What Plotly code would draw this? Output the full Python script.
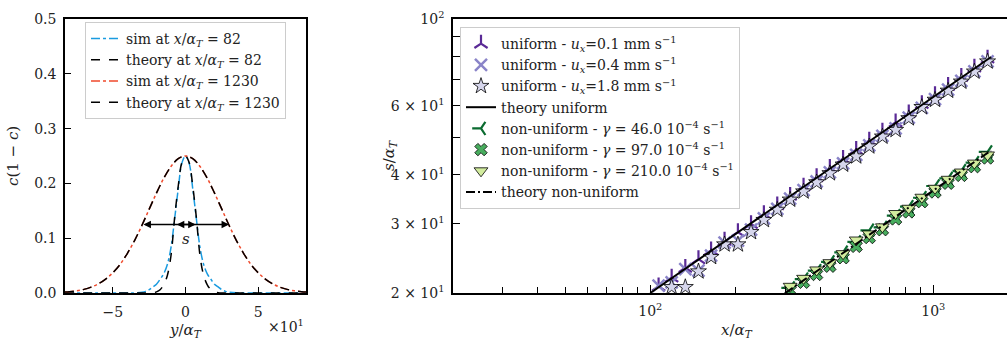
import plotly.graph_objects as go

# ---------------- left panel data ----------------
y_wide = [-83, -80, -75, -70, -65, -60, -55, -50, -45, -40, -35, -30, -25, -20, -15, -10, -5, 0,
          5, 10, 15, 20, 25, 30, 35, 40, 45, 50, 55, 60, 65, 70, 75, 80, 83]
sim_1230 = [0.0016, 0.0023, 0.0040, 0.0066, 0.0107, 0.0167, 0.0254, 0.0371, 0.0524, 0.0725, 0.0962,
            0.1236, 0.1530, 0.1823, 0.2093, 0.2309, 0.2452, 0.2500,
            0.2452, 0.2309, 0.2093, 0.1823, 0.1530, 0.1236, 0.0962, 0.0725, 0.0524, 0.0371, 0.0254,
            0.0167, 0.0107, 0.0066, 0.0040, 0.0023, 0.0016]
theory_1230 = [0.0016, 0.0023, 0.0040, 0.0066, 0.0107, 0.0167, 0.0254, 0.0371, 0.0524, 0.0725, 0.0962,
               0.1236, 0.1530, 0.1823, 0.2093, 0.2309, 0.2452, 0.2500,
               0.2452, 0.2309, 0.2093, 0.1823, 0.1530, 0.1236, 0.0962, 0.0725, 0.0524, 0.0371, 0.0254,
               0.0167, 0.0107, 0.0066, 0.0040, 0.0023, 0.0016]

y_narrow = [-83, -40, -35, -30, -27.5, -25, -22.5, -20, -17.5, -15, -12.5, -10, -7.5, -5, -2.5, 0,
            2.5, 5, 7.5, 10, 12.5, 15, 17.5, 20, 22.5, 25, 27.5, 30, 35, 40, 83]
sim_82 = [0.0, 0.0, 0.0003, 0.0015, 0.003, 0.006, 0.011, 0.016, 0.025, 0.035, 0.052, 0.083, 0.135,
          0.19, 0.237, 0.25,
          0.237, 0.19, 0.135, 0.083, 0.052, 0.035, 0.025, 0.016, 0.011, 0.006, 0.003, 0.0015, 0.0003,
          0.0, 0.0]
theory_82 = [0.0, 0.0, 0.0, 0.0, 0.0, 0.0, 0.0005, 0.002, 0.006, 0.015, 0.032, 0.068, 0.137,
             0.195, 0.238, 0.25,
             0.238, 0.195, 0.137, 0.068, 0.032, 0.015, 0.006, 0.002, 0.0005, 0.0, 0.0, 0.0, 0.0,
             0.0, 0.0]

# ---------------- right panel data ----------------
x_u = [107, 119, 133, 148, 164, 183, 204, 227, 252, 281, 312, 348, 387, 431, 480, 534, 594, 661,
       736, 819, 911, 1014, 1128, 1256, 1397, 1555]
s_u01 = [20.8, 21.9, 23.2, 24.4, 25.7, 27.2, 28.6, 30.0, 31.8, 33.5, 35.4, 37.4, 39.5, 41.7, 44.0,
         46.4, 49.0, 51.6, 54.5, 57.5, 60.7, 64.0, 67.5, 71.2, 75.2, 79.3]
s_u04 = [20.9, 21.3, 23.0, 22.8, 24.9, 26.9, 27.2, 29.0, 31.0, 32.8, 34.8, 36.6, 38.5, 40.6, 42.8,
         45.0, 47.6, 50.3, 52.6, 56.0, 59.3, 62.5, 66.0, 69.5, 73.5, 78.0]
x_u18 = [119, 133, 148, 164, 183, 204, 227, 252, 281, 312, 348, 387, 431, 480, 534, 594, 661,
         736, 819, 911, 1014, 1128, 1256, 1397, 1555]
s_u18 = [20.7, 20.7, 22.7, 24.7, 26.6, 26.6, 28.6, 30.7, 32.6, 34.6, 36.3, 38.3, 40.4, 42.5, 44.6,
         47.3, 50.1, 52.1, 55.8, 59.6, 62.2, 65.6, 69.2, 73.4, 77.9]
x_th_u = [100, 1600]
s_th_u = [20.0, 80.0]

x_n = [312, 348, 387, 431, 480, 534, 594, 661, 736, 819, 911, 1014, 1128, 1256, 1397, 1555]
s_g46 = [20.6, 21.7, 22.8, 24.0, 25.4, 27.0, 28.9, 29.4, 31.5, 33.2, 35.0, 37.5, 39.2, 41.0, 43.0, 45.8]
s_g97 = [20.3, 21.3, 22.3, 23.4, 24.6, 26.3, 27.7, 29.0, 30.9, 32.2, 34.2, 36.2, 38.1, 39.9, 42.0, 44.2]
s_g210 = [20.8, 21.8, 22.9, 23.9, 25.2, 27.3, 28.3, 29.5, 31.9, 32.9, 35.1, 37.0, 39.0, 40.7, 42.9, 45.0]
x_th_n = [300, 1600]
s_th_n = [20.0, 46.2]

FONT = "DejaVu Serif"
TXT = "#222"
W, H = 1007, 342
MT, MB = 19, 49
PH = H - MT - MB


def px(xp):
    return xp / W


def py(yp):
    return (H - MB - yp) / PH


fig = go.Figure()

# left panel traces
fig.add_trace(go.Scatter(x=y_narrow, y=sim_82, mode="lines", line=dict(color="#1a9be0", width=1.5, dash="dashdot", shape="spline"),
                         name="sim at <i>x</i>/<i>α<sub>T</sub></i> = 82", xaxis="x", yaxis="y", legend="legend"))
fig.add_trace(go.Scatter(x=y_narrow, y=theory_82, mode="lines", line=dict(color="black", width=1.5, dash="dash", shape="spline"),
                         name="theory at <i>x</i>/<i>α<sub>T</sub></i> = 82", xaxis="x", yaxis="y", legend="legend"))
fig.add_trace(go.Scatter(x=y_wide, y=sim_1230, mode="lines", line=dict(color="#f04a2c", width=1.5, dash="dashdot", shape="spline"),
                         name="sim at <i>x</i>/<i>α<sub>T</sub></i> = 1230", xaxis="x", yaxis="y", legend="legend"))
fig.add_trace(go.Scatter(x=y_wide, y=theory_1230, mode="lines", line=dict(color="black", width=1.5, dash="dash", shape="spline"),
                         name="theory at <i>x</i>/<i>α<sub>T</sub></i> = 1230", xaxis="x", yaxis="y", legend="legend"))


def sc(x, y, name, marker, rank):
    fig.add_trace(go.Scatter(x=x, y=y, mode="markers", marker=marker, name=name,
                             xaxis="x2", yaxis="y2", legend="legend2", legendrank=rank))


sc(x_u, s_u01, "uniform - <i>u<sub>x</sub></i>=0.1 mm s<sup>−1</sup>",
   dict(symbol="y-up", size=11, line=dict(color="#5a2a96", width=2.2)), 1)
sc(x_u, s_u04, "uniform - <i>u<sub>x</sub></i>=0.4 mm s<sup>−1</sup>",
   dict(symbol="x-thin", size=12, line=dict(color="#8a84c8", width=2.5)), 2)
sc(x_u18, s_u18, "uniform - <i>u<sub>x</sub></i>=1.8 mm s<sup>−1</sup>",
   dict(symbol="star", size=12, color="#d6d6ec", line=dict(color="black", width=0.8)), 3)
sc(x_n, s_g46, "non-uniform - <i>γ</i> = 46.0 10<sup>−4</sup> s<sup>−1</sup>",
   dict(symbol="y-left", size=11, line=dict(color="#0b6b30", width=2.2)), 5)
sc(x_n, s_g97, "non-uniform - <i>γ</i> = 97.0 10<sup>−4</sup> s<sup>−1</sup>",
   dict(symbol="x", size=11, color="#48ad5e", line=dict(color="black", width=0.8)), 6)
sc(x_n, s_g210, "non-uniform - <i>γ</i> = 210.0 10<sup>−4</sup> s<sup>−1</sup>",
   dict(symbol="triangle-down", size=12, color="#d2ec9e", line=dict(color="black", width=0.8)), 7)

fig.add_trace(go.Scatter(x=x_th_u, y=s_th_u, mode="lines", line=dict(color="black", width=2),
                         name="theory uniform", xaxis="x2", yaxis="y2", legend="legend2", legendrank=4))
fig.add_trace(go.Scatter(x=x_th_n, y=s_th_n, mode="lines", line=dict(color="black", width=2, dash="9px,3px,2px,3px"),
                         name="theory non-uniform", xaxis="x2", yaxis="y2", legend="legend2", legendrank=8))

axis_common = dict(showline=True, linecolor="black", linewidth=1.6, ticks="inside", tickcolor="black",
                   tickwidth=1, showgrid=False, zeroline=False, tickfont=dict(family=FONT, size=14, color=TXT))

fig.update_layout(
    width=W, height=H,
    margin=dict(l=0, r=0, t=MT, b=MB),
    plot_bgcolor="white", paper_bgcolor="white",
    font=dict(family=FONT, size=14, color=TXT),
    xaxis=dict(domain=[px(65), px(306)], range=[-83, 83], tickvals=[-50, 0, 50], ticktext=["−5", "0", "5"],
               ticklen=6, mirror=True, anchor="y", ticklabelstandoff=5, **axis_common),
    yaxis=dict(domain=[0, 1], range=[0, 0.5], tickvals=[0, 0.1, 0.2, 0.3, 0.4, 0.5],
               ticktext=["0.0", "0.1", "0.2", "0.3", "0.4", "0.5"], ticklen=6, mirror=True, anchor="x",
               ticklabelstandoff=4, **axis_common),
    xaxis2=dict(domain=[px(453), 1], type="log", range=[1.303, 3.2604], tickvals=[100, 1000],
                ticktext=["10<sup>2</sup>", "10<sup>3</sup>"], ticklen=8, mirror=True, anchor="y2",
                ticklabelstandoff=4,
                minor=dict(tickvals=[30, 40, 50, 60, 70, 80, 90, 200, 300, 400, 500, 600, 700, 800, 900],
                           ticks="inside", ticklen=6, tickcolor="black", showgrid=False),
                **axis_common),
    yaxis2=dict(domain=[0, 1], type="log", range=[1.30103, 2.0], anchor="x2",
                tickvals=[20, 30, 40, 50, 60, 70, 80, 90, 100],
                ticktext=["2 × 10<sup>1</sup>", "3 × 10<sup>1</sup>", "4 × 10<sup>1</sup>", "", "6 × 10<sup>1</sup>",
                          "", "", "", "10<sup>2</sup>"],
                ticklen=7, mirror=False, ticklabelstandoff=4, **axis_common),
    legend=dict(x=px(85), y=py(22), xanchor="left", yanchor="top", bgcolor="rgba(255,255,255,0.85)",
                bordercolor="#cccccc", borderwidth=1, font=dict(family=FONT, size=14, color=TXT),
                tracegroupgap=0, itemwidth=30),
    legend2=dict(x=px(460), y=py(27), xanchor="left", yanchor="top", bgcolor="rgba(255,255,255,0.85)",
                 bordercolor="#cccccc", borderwidth=1, font=dict(family=FONT, size=14, color=TXT),
                 tracegroupgap=0, itemwidth=30, traceorder="normal"),
    showlegend=True,
)

# arrows and labels on the left panel
fig.add_annotation(x=30, y=0.125, ax=-30, ay=0.125, xref="x", yref="y", axref="x", ayref="y", text="",
                   showarrow=True, arrowside="end+start", arrowhead=2, arrowsize=1, arrowwidth=1.5, arrowcolor="black")
fig.add_annotation(x=7, y=0.125, ax=-7, ay=0.125, xref="x", yref="y", axref="x", ayref="y", text="",
                   showarrow=True, arrowside="end+start", arrowhead=2, arrowsize=1, arrowwidth=1.5, arrowcolor="black")
fig.add_annotation(x=0, y=0.098, xref="x", yref="y", xanchor="center", yanchor="middle", text="<i>s</i>",
                   showarrow=False, font=dict(family=FONT, size=15, color=TXT))


def label(xp, yp, text, angle=0, size=15, xanchor="center"):
    fig.add_annotation(x=px(xp), y=py(yp), xref="paper", yref="paper", text=text, textangle=angle,
                       xanchor=xanchor, yanchor="middle", showarrow=False,
                       font=dict(family=FONT, size=size, color=TXT))


label(185, 330, "<i>y</i>/<i>α<sub>T</sub></i>")
label(306, 326, "×10<sup>1</sup>", size=14, xanchor="right")
label(13, 156, "<i>c</i>(1 − <i>c</i>)", angle=-90)
label(737, 330, "<i>x</i>/<i>α<sub>T</sub></i>")
label(389, 156, "<i>s</i>/<i>α<sub>T</sub></i>", angle=-90)

fig.write_html("out.html")
